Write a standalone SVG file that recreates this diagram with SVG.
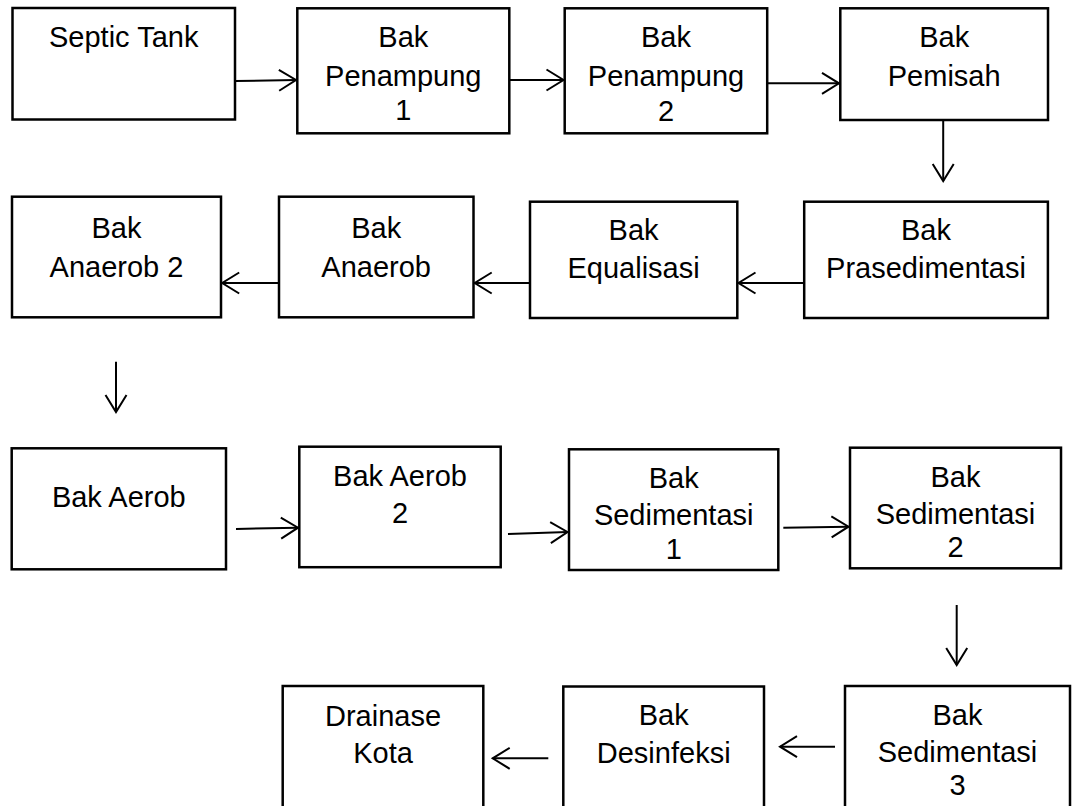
<svg xmlns="http://www.w3.org/2000/svg" width="1078" height="806" viewBox="0 0 1078 806">
<style>
.box{fill:#fff;stroke:#000;stroke-width:2.5}
.t{font-family:"Liberation Sans",Arial,sans-serif;font-size:29px;fill:#000;text-anchor:middle}
.c{stroke:#000;stroke-width:2;fill:none;marker-end:url(#ah)}
</style>
<defs>
<marker id="ah" markerUnits="userSpaceOnUse" markerWidth="22" markerHeight="26" viewBox="0 0 22 26" refX="19" refY="13" orient="auto">
<path d="M2,2.5 L19,13 L2,23.5" fill="none" stroke="#000" stroke-width="2"/>
</marker>
</defs>
<rect width="1078" height="806" fill="#fff"/>
<g id="septic"><rect class="box" x="12.5" y="8" width="222.5" height="111.5"/><text class="t" x="123.7" y="47">Septic Tank</text></g>
<g id="penampung1"><rect class="box" x="297.3" y="8.3" width="212" height="125"/><text class="t" x="403.3" y="47">Bak</text><text class="t" x="403.3" y="85.5">Penampung</text><text class="t" x="403.3" y="120">1</text></g>
<g id="penampung2"><rect class="box" x="564.7" y="8.3" width="202.5" height="125"/><text class="t" x="666" y="47">Bak</text><text class="t" x="666" y="85.5">Penampung</text><text class="t" x="666" y="121">2</text></g>
<g id="pemisah"><rect class="box" x="840.3" y="8.3" width="207.7" height="111.7"/><text class="t" x="944.2" y="47">Bak</text><text class="t" x="944.2" y="85.5">Pemisah</text></g>
<g id="anaerob2"><rect class="box" x="12" y="196.7" width="209" height="120.6"/><text class="t" x="116.5" y="238">Bak</text><text class="t" x="116.5" y="276.5">Anaerob 2</text></g>
<g id="anaerob"><rect class="box" x="279" y="196.7" width="194.5" height="120.6"/><text class="t" x="376.2" y="238">Bak</text><text class="t" x="376.2" y="276.5">Anaerob</text></g>
<g id="equalisasi"><rect class="box" x="530" y="201.7" width="207.3" height="116.3"/><text class="t" x="633.6" y="240">Bak</text><text class="t" x="633.6" y="278">Equalisasi</text></g>
<g id="prasedimentasi"><rect class="box" x="804.2" y="201.7" width="243.7" height="116.3"/><text class="t" x="926" y="240">Bak</text><text class="t" x="926" y="278">Prasedimentasi</text></g>
<g id="aerob"><rect class="box" x="11.7" y="448.3" width="214.3" height="121"/><text class="t" x="118.8" y="507">Bak Aerob</text></g>
<g id="aerob2"><rect class="box" x="299.3" y="446.7" width="201.4" height="120.5"/><text class="t" x="400" y="486">Bak Aerob</text><text class="t" x="400" y="523">2</text></g>
<g id="sedimentasi1"><rect class="box" x="569" y="449.3" width="209.3" height="120.7"/><text class="t" x="673.7" y="488">Bak</text><text class="t" x="673.7" y="525">Sedimentasi</text><text class="t" x="673.7" y="559">1</text></g>
<g id="sedimentasi2"><rect class="box" x="850" y="447.7" width="211" height="120.6"/><text class="t" x="955.5" y="487">Bak</text><text class="t" x="955.5" y="523.5">Sedimentasi</text><text class="t" x="955.5" y="557">2</text></g>
<g id="drainase"><rect class="box" x="282.7" y="686" width="200.6" height="140"/><text class="t" x="383" y="726">Drainase</text><text class="t" x="383" y="763">Kota</text></g>
<g id="desinfeksi"><rect class="box" x="563.3" y="686.5" width="200.7" height="140"/><text class="t" x="663.7" y="725">Bak</text><text class="t" x="663.7" y="763">Desinfeksi</text></g>
<g id="sedimentasi3"><rect class="box" x="845" y="686" width="225" height="140"/><text class="t" x="957.5" y="725">Bak</text><text class="t" x="957.5" y="762">Sedimentasi</text><text class="t" x="957.5" y="795">3</text></g>
<g id="connectors">
<path class="c" d="M235,81 L296,80"/>
<path class="c" d="M509.3,80 L563.5,80"/>
<path class="c" d="M767.2,83.3 L839,83.3"/>
<path class="c" d="M943.2,120 L943.2,181"/>
<path class="c" d="M804.2,283 L738.5,283"/>
<path class="c" d="M530,283 L474.7,283"/>
<path class="c" d="M279,283 L222.2,283"/>
<path class="c" d="M116,361.7 L116,412"/>
<path class="c" d="M236,529 L298,527.7"/>
<path class="c" d="M508,534 L567.5,532"/>
<path class="c" d="M783.3,527.7 L848.5,526.7"/>
<path class="c" d="M956.7,605 L956.7,665"/>
<path class="c" d="M835,746.7 L780,746.7"/>
<path class="c" d="M548.3,758.3 L492.7,758.3"/>
</g>
</svg>
